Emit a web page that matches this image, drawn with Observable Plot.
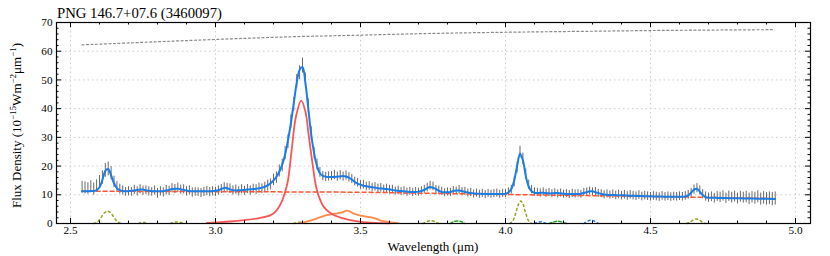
<!DOCTYPE html>
<html><head><meta charset="utf-8">
<script src="https://cdn.jsdelivr.net/npm/d3@7"></script>
<script src="https://cdn.jsdelivr.net/npm/@observablehq/plot@0.6"></script>
<style>body{margin:0;background:#fff}svg{display:block}</style>
</head><body><div id="chart"></div>
<script>
const titleText = "PNG 146.7+07.6 (3460097)";
const xLabel = "Wavelength (μm)";
const xMajor = [2.5, 3.0, 3.5, 4.0, 4.5, 5.0];
const xMinor = [2.6,2.7,2.8,2.9,3.1,3.2,3.3,3.4,3.6,3.7,3.8,3.9,4.1,4.2,4.3,4.4,4.6,4.7,4.8,4.9];
const yMajor = [0,10,20,30,40,50,60,70];
const yMinor = [2,4,6,8,12,14,16,18,22,24,26,28,32,34,36,38,42,44,46,48,52,54,56,58,62,64,66,68];

const wave = [
2.54,2.55,2.56,2.57,2.58,2.59,2.60,2.61,2.62,2.63,
2.64,2.65,2.66,2.67,2.68,2.69,2.70,2.71,2.72,2.73,
2.74,2.75,2.76,2.77,2.78,2.79,2.80,2.81,2.82,2.83,
2.84,2.85,2.86,2.87,2.88,2.89,2.90,2.91,2.92,2.93,
2.94,2.95,2.96,2.97,2.98,2.99,3.00,3.01,3.02,3.03,
3.04,3.05,3.06,3.07,3.08,3.09,3.10,3.11,3.12,3.13,
3.14,3.15,3.16,3.17,3.18,3.19,3.20,3.21,3.22,3.23,
3.24,3.25,3.26,3.27,3.28,3.29,3.30,3.31,3.32,3.33,
3.34,3.35,3.36,3.37,3.38,3.39,3.40,3.41,3.42,3.43,
3.44,3.45,3.46,3.47,3.48,3.49,3.50,3.51,3.52,3.53,
3.54,3.55,3.56,3.57,3.58,3.59,3.60,3.61,3.62,3.63,
3.64,3.65,3.66,3.67,3.68,3.69,3.70,3.71,3.72,3.73,
3.74,3.75,3.76,3.77,3.78,3.79,3.80,3.81,3.82,3.83,
3.84,3.85,3.86,3.87,3.88,3.89,3.90,3.91,3.92,3.93,
3.94,3.95,3.96,3.97,3.98,3.99,4.00,4.01,4.02,4.03,
4.04,4.05,4.06,4.07,4.08,4.09,4.10,4.11,4.12,4.13,
4.14,4.15,4.16,4.17,4.18,4.19,4.20,4.21,4.22,4.23,
4.24,4.25,4.26,4.27,4.28,4.29,4.30,4.31,4.32,4.33,
4.34,4.35,4.36,4.37,4.38,4.39,4.40,4.41,4.42,4.43,
4.44,4.45,4.46,4.47,4.48,4.49,4.50,4.51,4.52,4.53,
4.54,4.55,4.56,4.57,4.58,4.59,4.60,4.61,4.62,4.63,
4.64,4.65,4.66,4.67,4.68,4.69,4.70,4.71,4.72,4.73,
4.74,4.75,4.76,4.77,4.78,4.79,4.80,4.81,4.82,4.83,
4.84,4.85,4.86,4.87,4.88,4.89,4.90,4.91,4.92,4.93];

const flux = [
12.6,12.4,12.2,12.8,12.0,13.0,14.5,16.0,18.5,19.0,
17.5,14.5,12.8,12.0,11.5,11.0,11.2,11.0,11.7,11.2,
11.9,11.4,11.6,11.2,11.0,11.5,10.5,11.2,10.8,11.6,
11.4,12.3,12.0,12.5,11.8,11.9,11.2,11.5,10.8,11.0,
10.9,10.6,11.0,11.3,10.9,11.2,11.0,11.5,12.0,12.6,
12.4,12.2,11.5,11.8,11.2,11.9,11.4,12.0,11.5,12.1,
11.8,12.4,12.1,12.6,13.2,13.6,15.2,16.0,18.3,20.2,
24.5,28.5,35.5,41.5,49.5,52.5,55.0,50.0,41.0,31.5,
24.5,20.5,17.8,16.5,16.2,16.4,16.5,16.9,16.3,16.8,
16.3,16.7,16.1,15.5,14.6,14.2,13.4,13.5,12.9,13.1,
12.5,12.8,12.2,12.4,11.9,12.2,11.8,11.9,11.3,11.6,
11.1,11.4,10.9,11.2,10.8,11.1,10.9,11.4,11.9,12.5,
13.2,12.9,11.8,11.6,11.2,10.7,11.0,10.8,11.5,11.3,
11.8,11.1,11.2,10.6,10.8,10.3,10.6,10.2,10.5,10.1,
10.5,10.2,10.4,10.6,10.2,10.5,10.4,11.0,11.8,14.5,
19.5,24.8,22.5,17.2,13.5,11.8,11.0,10.8,10.6,11.0,
10.5,10.8,10.4,10.7,10.3,10.6,10.2,10.4,10.1,10.5,
10.3,10.4,10.2,10.8,11.0,11.3,11.0,11.1,10.5,10.4,
10.0,10.3,9.9,10.2,9.8,10.1,9.7,10.0,9.6,10.0,
9.7,9.5,9.9,9.4,9.7,9.5,9.3,9.6,9.4,9.2,
9.6,9.3,9.5,9.2,9.4,9.3,9.5,9.3,9.6,10.0,
10.6,11.8,12.3,11.5,10.2,9.4,9.0,9.3,8.8,9.4,
9.1,9.6,8.8,9.5,9.0,9.4,8.7,9.3,9.0,9.2,
8.6,9.1,8.8,9.3,8.5,8.9,8.6,8.8,8.5,8.7];

const err = [
2.1,2.1,2.0,2.1,2.1,2.2,2.2,2.3,2.4,2.4,
2.3,2.0,1.8,1.7,1.6,1.5,1.6,1.5,1.6,1.6,
1.6,1.6,1.5,1.6,1.5,1.6,1.7,1.6,1.6,1.6,
1.6,1.6,1.6,1.6,1.6,1.6,1.6,1.6,1.6,1.5,
1.5,1.6,1.6,1.6,1.6,1.6,1.6,1.6,1.6,1.6,
1.6,1.6,1.6,1.6,1.6,1.6,1.6,1.6,1.6,1.6,
1.7,1.7,1.7,1.8,1.9,1.9,2.0,2.0,2.1,2.2,
2.3,2.4,2.4,2.4,2.4,2.4,2.6,2.4,2.4,2.2,
2.0,1.9,1.7,1.6,1.6,1.6,1.6,1.6,1.6,1.6,
1.6,1.6,1.6,1.6,1.5,1.5,1.5,1.5,1.5,1.5,
1.5,1.5,1.5,1.5,1.5,1.5,1.5,1.4,1.4,1.4,
1.4,1.4,1.4,1.4,1.4,1.4,1.4,1.4,1.4,1.5,
1.5,1.5,1.4,1.4,1.4,1.4,1.4,1.4,1.4,1.4,
1.4,1.4,1.4,1.4,1.4,1.4,1.4,1.4,1.4,1.4,
1.4,1.4,1.4,1.4,1.4,1.4,1.4,1.4,1.5,1.7,
1.9,2.1,2.0,1.8,1.6,1.5,1.4,1.4,1.4,1.4,
1.4,1.4,1.4,1.4,1.4,1.4,1.4,1.4,1.4,1.4,
1.4,1.4,1.4,1.4,1.4,1.4,1.4,1.4,1.4,1.4,
1.4,1.4,1.4,1.5,1.5,1.5,1.5,1.5,1.5,1.5,
1.5,1.5,1.5,1.5,1.5,1.5,1.5,1.5,1.5,1.5,
1.5,1.5,1.5,1.5,1.5,1.5,1.5,1.5,1.5,1.5,
1.6,1.6,1.6,1.6,1.6,1.6,1.6,1.7,1.7,1.7,
1.8,1.8,1.8,1.8,1.9,1.9,1.9,1.9,1.9,2.0,
2.0,2.0,2.1,2.1,2.1,2.2,2.2,2.2,2.3,2.3];

const fit = [
11.2,11.2,11.2,11.3,11.3,11.6,12.6,15.2,18.3,19.0,
16.8,14.0,12.3,11.6,11.3,11.2,11.3,11.4,11.5,11.7,
11.8,11.8,11.6,11.4,11.3,11.2,11.2,11.2,11.3,11.5,
11.7,12.0,12.1,12.1,11.9,11.7,11.5,11.3,11.2,11.2,
11.2,11.2,11.2,11.2,11.2,11.3,11.4,11.6,12.0,12.4,
12.3,11.9,11.6,11.5,11.6,11.6,11.7,11.8,11.9,12.0,
12.1,12.3,12.5,12.8,13.3,14.0,15.0,16.3,18.0,20.5,
24.0,29.0,35.0,42.0,49.0,53.5,54.5,49.0,40.0,31.0,
24.5,20.0,17.5,16.6,16.3,16.2,16.2,16.2,16.3,16.4,
16.5,16.4,16.0,15.3,14.5,13.9,13.5,13.2,13.0,12.8,
12.6,12.5,12.3,12.2,12.1,12.0,11.9,11.7,11.5,11.4,
11.3,11.2,11.1,11.0,11.0,11.0,11.1,11.3,11.7,12.3,
12.7,12.5,12.0,11.4,11.0,10.9,10.9,11.0,11.3,11.5,
11.5,11.3,11.0,10.8,10.6,10.5,10.4,10.4,10.3,10.3,
10.3,10.3,10.3,10.3,10.3,10.3,10.4,10.8,12.0,15.0,
20.0,24.3,22.0,16.5,12.8,11.2,10.7,10.6,10.7,10.7,
10.6,10.5,10.5,10.6,10.6,10.5,10.4,10.3,10.3,10.3,
10.3,10.3,10.4,10.6,10.9,11.2,11.2,10.9,10.6,10.3,
10.1,10.0,9.9,9.9,9.9,9.8,9.8,9.8,9.7,9.7,
9.7,9.6,9.6,9.6,9.5,9.5,9.5,9.4,9.4,9.4,
9.4,9.3,9.3,9.3,9.3,9.3,9.3,9.3,9.4,9.8,
10.7,11.8,12.1,11.1,9.9,9.2,9.0,9.0,9.0,8.9,
8.9,8.9,8.9,8.8,8.8,8.8,8.8,8.8,8.7,8.7,
8.7,8.7,8.7,8.6,8.6,8.6,8.6,8.6,8.5,8.5];

// continuum (red dashed)
const contW = [2.54, 3.0, 3.5, 4.0, 4.5, 4.93];
const contF = [11.25, 11.1, 10.9, 10.1, 9.4, 8.7];
// upper grey dotted curve
const upperW = [2.54, 2.8, 3.0, 3.25, 3.5, 3.75, 4.0, 4.25, 4.5, 4.75, 4.92];
const upperF = [62.2, 63.3, 64.1, 65.0, 65.6, 66.2, 66.6, 66.9, 67.2, 67.4, 67.5];
// 3.3 micron band (red)
const band33 = [[2.97,0.2],[3.00,0.4],[3.05,0.7],[3.10,1.2],[3.15,1.9],[3.19,2.9],[3.21,4.5],[3.23,8],[3.248,14],[3.262,25],[3.277,37],[3.2955,42.8],[3.31,39],[3.321,31],[3.333,22],[3.35,11.5],[3.374,5.7],[3.40,3.4],[3.45,1.5],[3.50,0.6],[3.55,0.2],[3.60,0.05]];
// 3.4-3.5 plateau (orange)
const band34 = [[3.29,0.1],[3.32,0.8],[3.35,1.8],[3.38,2.8],[3.41,3.4],[3.435,3.8],[3.455,4.5],[3.475,3.5],[3.50,2.7],[3.525,2.3],[3.55,1.8],[3.57,1.0],[3.60,0.5],[3.63,0.1]];
// olive dashed lines
const oliveA = [[2.58,0],[2.59,0.4],[2.60,1.3],[2.61,2.8],[2.62,4.0],[2.627,4.3],[2.635,4.0],[2.645,2.9],[2.655,1.4],[2.665,0.4],[2.675,0]];
const oliveB = [[2.735,0],[2.745,0.35],[2.755,0.35],[2.765,0]];
const oliveC = [[2.845,0],[2.86,0.5],[2.875,0.5],[2.89,0]];
const oliveD = [[3.27,0],[3.29,0.5],[3.31,0]];
const oliveE = [[3.715,0],[3.73,0.7],[3.742,1.0],[3.755,0.7],[3.77,0]];
const oliveF = [[4.015,0],[4.025,0.9],[4.035,3.5],[4.045,6.8],[4.052,7.8],[4.06,6.8],[4.07,3.5],[4.08,0.9],[4.09,0]];
const oliveG = [[4.625,0],[4.635,0.4],[4.645,1.1],[4.657,1.6],[4.67,1.1],[4.68,0.4],[4.69,0]];
// green dashed
const greenA = [[3.81,0],[3.82,0.6],[3.835,0.9],[3.85,0.6],[3.86,0]];
const greenB = [[4.15,0],[4.165,0.5],[4.18,0.8],[4.195,0.5],[4.21,0]];
// blue dashed
const blueA = [[4.10,0],[4.115,0.5],[4.125,0.6],[4.14,0]];
const blueB = [[4.27,0],[4.285,0.9],[4.295,1.2],[4.305,0.9],[4.32,0]];

const rows = wave.map((w, i) => ({w, f: flux[i], e: err[i], m: fit[i]}));
const cont = contW.map((w, i) => ({w, f: contF[i]}));
const upper = upperW.map((w, i) => ({w, f: upperF[i]}));
const toRows = (arr, id) => arr.map(([w, f]) => ({w, f, id}));
const olive = [oliveA, oliveB, oliveC, oliveD, oliveE, oliveF, oliveG].flatMap((a, k) => toRows(a, k));
const green = [greenA, greenB].flatMap((a, k) => toRows(a, k));
const blueC = [blueA, blueB].flatMap((a, k) => toRows(a, k));

const W = 830, H = 256, mL = 56, mR = 20, mT = 22, mB = 33;
const iH = H - mT - mB, iW = W - mL - mR;
const ink = "black";
const serif = "'Liberation Serif','Times New Roman',Times,serif";

const chart = Plot.plot({
  width: W, height: H,
  marginLeft: mL, marginRight: mR, marginTop: mT, marginBottom: mB,
  style: {fontFamily: serif, fontSize: "11.2px", color: "black", background: "white"},
  x: {domain: [2.4517, 5.0517]},
  y: {domain: [0, 70]},
  marks: [
    Plot.gridX(xMajor, {stroke: "#cccccc", strokeOpacity: 1, strokeDasharray: "1.5,3"}),
    Plot.gridY(yMajor, {stroke: "#cccccc", strokeOpacity: 1, strokeDasharray: "1.5,3"}),
    Plot.line(upper, {x: "w", y: "f", stroke: "#8a8a8a", strokeWidth: 1.2, strokeDasharray: "2,2.5", curve: "catmull-rom"}),
    Plot.ruleX(rows, {x: "w", y1: d => d.f - d.e, y2: d => d.f + d.e, stroke: "#6a6a6a", strokeWidth: 1}),
    Plot.line(olive, {x: "w", y: "f", z: "id", stroke: "#98a21c", strokeWidth: 1.5, strokeDasharray: "2,3", curve: "catmull-rom"}),
    Plot.line(green, {x: "w", y: "f", z: "id", stroke: "#2ca02c", strokeWidth: 1.5, strokeDasharray: "3,2", curve: "catmull-rom"}),
    Plot.line(blueC, {x: "w", y: "f", z: "id", stroke: "#2a78e4", strokeWidth: 1.5, strokeDasharray: "2,3", curve: "catmull-rom"}),
    Plot.line(band34, {x: d => d[0], y: d => d[1], stroke: "#ff8a4c", strokeWidth: 1.8, curve: "catmull-rom"}),
    Plot.line(band33, {x: d => d[0], y: d => d[1], stroke: "#f85757", strokeWidth: 1.8, curve: "catmull-rom"}),
    Plot.line(cont, {x: "w", y: "f", stroke: "#ff5533", strokeWidth: 1.5, strokeDasharray: "4,3"}),
    Plot.line(rows, {x: "w", y: "m", stroke: "#1a7ee6", strokeWidth: 2, curve: "catmull-rom"}),
    // inward ticks on all four sides
    Plot.ruleX(xMajor, {insetTop: iH - 5, stroke: ink}),
    Plot.ruleX(xMajor, {insetBottom: iH - 5, stroke: ink}),
    Plot.ruleX(xMinor, {insetTop: iH - 2.5, stroke: ink}),
    Plot.ruleX(xMinor, {insetBottom: iH - 2.5, stroke: ink}),
    Plot.ruleY(yMajor, {insetRight: iW - 5, stroke: ink}),
    Plot.ruleY(yMajor, {insetLeft: iW - 5, stroke: ink}),
    Plot.ruleY(yMinor, {insetRight: iW - 2.5, stroke: ink}),
    Plot.ruleY(yMinor, {insetLeft: iW - 2.5, stroke: ink}),
    Plot.frame({stroke: ink, strokeWidth: 1.2}),
    Plot.axisX(xMajor, {tickSize: 0, tickPadding: 3, tickFormat: d3.format(".1f"), label: null}),
    Plot.axisY(yMajor, {tickSize: 0, tickPadding: 4, label: null})
  ]
});

const svg = d3.select(chart);
svg.append("text")
  .attr("x", 57).attr("y", 17.5)
  .style("text-anchor", "start")
  .style("font-size", "14.7px")
  .style("font-family", serif)
  .style("fill", "black")
  .text(titleText);
svg.append("text")
  .attr("x", mL + iW / 2).attr("y", 251)
  .style("text-anchor", "middle")
  .style("font-size", "13px")
  .style("font-family", serif)
  .style("fill", "black")
  .text(xLabel);
const yl = svg.append("text")
  .attr("transform", `translate(21,${mT + iH / 2 + 3}) rotate(-90)`)
  .style("text-anchor", "middle")
  .style("font-size", "13px")
  .style("font-family", serif)
  .style("fill", "black");
const parts = [["Flux Density (10", 0], ["−15", 1], ["Wm", 0], ["−2", 1], ["μm", 0], ["−1", 1], [")", 0]];
let prevSup = 0;
for (const [t, sup] of parts) {
  const ts = yl.append("tspan").text(t);
  if (sup) { ts.attr("dy", -5).style("font-size", "9px"); }
  else { ts.style("font-size", "13px"); if (prevSup) ts.attr("dy", 5); }
  prevSup = sup;
}
document.getElementById("chart").append(chart);
</script>
</body></html>
